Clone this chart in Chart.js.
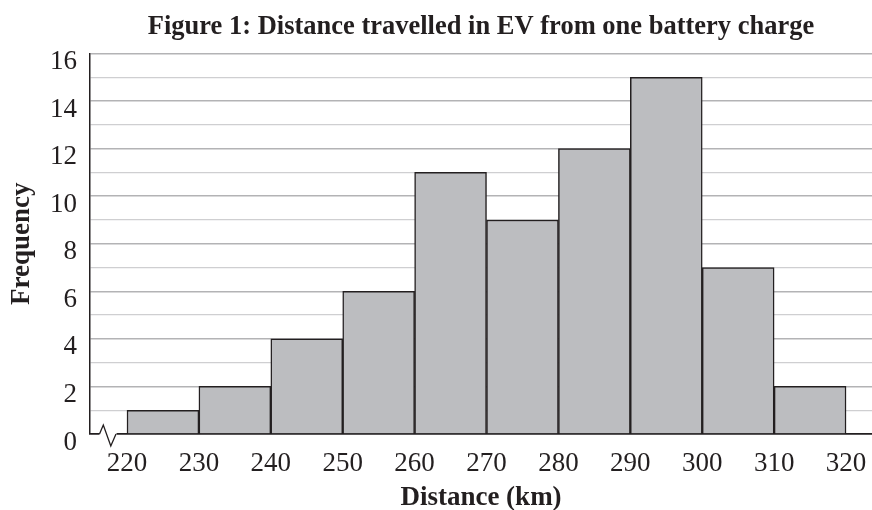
<!DOCTYPE html>
<html>
<head>
<meta charset="utf-8">
<script src="https://cdn.jsdelivr.net/npm/chart.js@4.4.1/dist/chart.umd.min.js"></script>
<style>
  html, body { margin: 0; padding: 0; background: #ffffff; }
  #wrap { width: 872px; height: 510px; }
</style>
</head>
<body>
<div id="wrap"><canvas id="c" width="872" height="510"></canvas></div>
<script>
// ---- data ----
const binStarts = [220, 230, 240, 250, 260, 270, 280, 290, 300, 310];
const binWidth = 10;
const frequencies = [1, 2, 4, 6, 11, 9, 12, 15, 7, 2];
const xTickValues = [220, 230, 240, 250, 260, 270, 280, 290, 300, 310, 320];
const yTickValues = [0, 2, 4, 6, 8, 10, 12, 14, 16];
const titleText = 'Figure 1: Distance travelled in EV from one battery charge';
const xTitle = 'Distance (km)';
const yTitle = 'Frequency';

const INK = '#231f20';
const SERIF = "'Liberation Serif', 'Times New Roman', serif";

const points = binStarts.map((s, i) => ({ x: s + binWidth / 2, y: frequencies[i] }));

// axis-break zigzag drawn on the x-axis near the origin
const axisBreak = {
  id: 'axisBreak',
  afterDatasetsDraw(chart) {
    const { ctx, chartArea } = chart;
    const y0 = chart.scales.y.getPixelForValue(0);
    const L = chartArea.left;
    ctx.save();
    ctx.fillStyle = '#ffffff';
    ctx.fillRect(L + 9.5, y0 - 2, 17, 4);
    ctx.strokeStyle = INK;
    ctx.lineWidth = 1.3;
    ctx.lineJoin = 'miter';
    ctx.beginPath();
    ctx.moveTo(L + 9.5, y0);
    ctx.lineTo(L + 13.3, y0 - 9);
    ctx.lineTo(L + 20.8, y0 + 12);
    ctx.lineTo(L + 26, y0);
    ctx.stroke();
    ctx.restore();
  }
};

new Chart(document.getElementById('c'), {
  type: 'bar',
  data: {
    datasets: [{
      data: points,
      backgroundColor: '#bcbdc0',
      borderColor: INK,
      borderWidth: 1.5,
      barPercentage: 1,
      categoryPercentage: 1
    }]
  },
  options: {
    responsive: false,
    animation: false,
    devicePixelRatio: 1,
    layout: { padding: 0 },
    plugins: {
      legend: { display: false },
      tooltip: { enabled: false },
      title: {
        display: true,
        text: titleText,
        fullSize: false,
        color: INK,
        font: { family: SERIF, size: 26.5, weight: 'bold', lineHeight: 1.2 },
        padding: { top: 11.5, bottom: 10.2 }
      }
    },
    scales: {
      x: {
        type: 'linear',
        min: 214.855,
        max: 323.61,
        offset: false,
        afterBuildTicks: (scale) => { scale.ticks = xTickValues.map(v => ({ value: v })); },
        afterFit: (scale) => { scale.height = 76; scale.paddingLeft = 0; scale.paddingRight = 0; },
        grid: { display: false, drawTicks: false },
        border: { display: true, color: INK, width: 1.5 },
        ticks: {
          color: INK,
          font: { family: SERIF, size: 27 },
          padding: 14,
          maxRotation: 0,
          autoSkip: false
        },
        title: {
          display: true,
          text: xTitle,
          color: INK,
          font: { family: SERIF, size: 27, weight: 'bold', lineHeight: 0.6 },
          padding: { top: 0, bottom: 3.5 }
        }
      },
      y: {
        type: 'linear',
        min: 0,
        max: 16,
        afterBuildTicks: (scale) => {
          const t = [];
          for (let v = 0; v <= 16; v++) t.push({ value: v });
          scale.ticks = t;
        },
        afterFit: (scale) => { scale.width = 90; },
        grid: {
          drawTicks: false,
          color: (c) => c.tick && c.tick.value === 0 ? INK : (c.tick && c.tick.value % 2 === 0 ? '#b3b3b5' : '#cfcfd1'),
          lineWidth: (c) => c.tick && c.tick.value % 2 === 0 ? 1.6 : 1.2
        },
        border: { display: true, color: INK, width: 1.5 },
        ticks: {
          color: INK,
          font: { family: SERIF, size: 27 },
          padding: 13,
          labelOffset: 8.5,
          autoSkip: false,
          callback: (v) => yTickValues.includes(v) ? String(v) : ''
        },
        title: {
          display: true,
          text: yTitle,
          color: INK,
          font: { family: SERIF, size: 27, weight: 'bold', lineHeight: 1.2 },
          padding: { top: 6, bottom: 0 }
        }
      }
    }
  },
  plugins: [axisBreak]
});
</script>
</body>
</html>
